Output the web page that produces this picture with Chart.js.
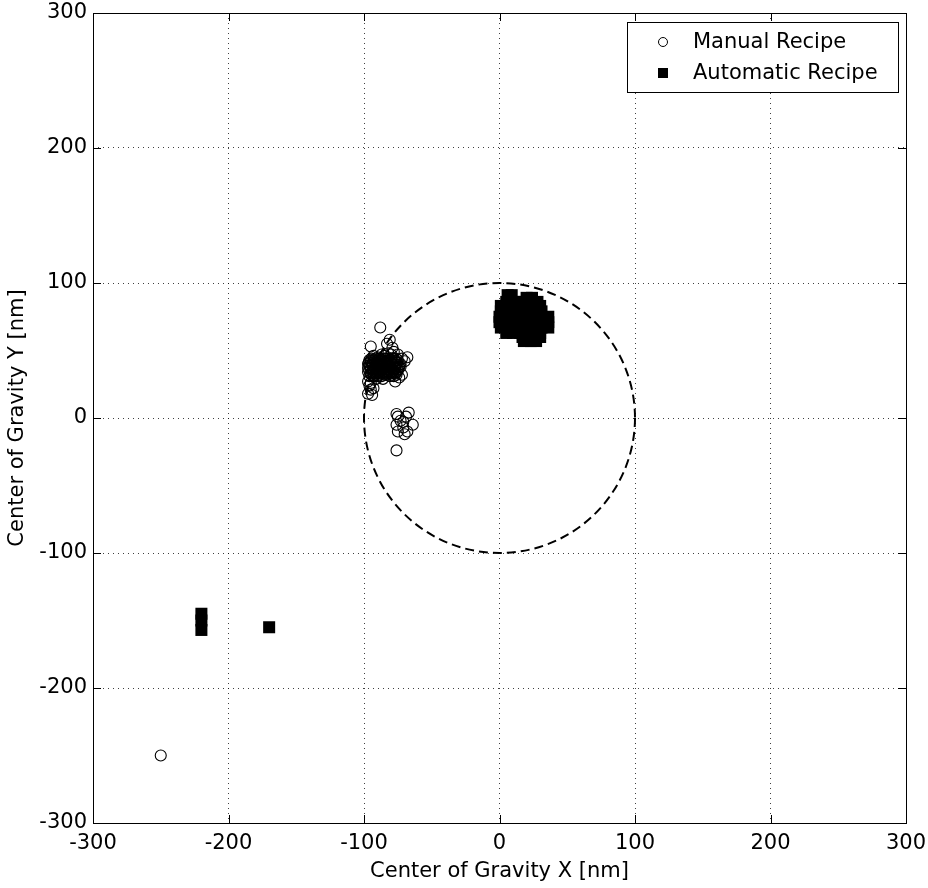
<!DOCTYPE html>
<html>
<head>
<meta charset="utf-8">
<script src="https://cdn.jsdelivr.net/npm/chart.js@4.4.1/dist/chart.umd.min.js"></script>
<style>
    html, body { margin: 0; padding: 0; background: #fff; }
    #wrap { width: 928px; height: 888px; }
</style>
</head>
<body>
<div id="wrap"><canvas id="chart"></canvas></div>
<script>
// tick values on both axes
const tickValues = [-300, -200, -100, 0, 100, 200, 300];

// reference circle (centre and radius in nm)
const circleCenter = [0, 0];
const circleRadius = 100;

// Manual Recipe points [x, y]
const manualPoints = [
    [-250, -250],
    [-88, 67], [-95, 53], [-81, 58], [-83, 55], [-79, 52],
    [-96, 43], [-93, 43], [-90, 43], [-87, 43], [-84, 44], [-81, 43], [-78, 44], [-75, 43],
    [-97, 40], [-94, 40], [-91, 41], [-88, 40], [-85, 41], [-82, 40], [-79, 40], [-76, 41], [-73, 40],
    [-97, 37], [-95, 37], [-92, 37], [-89, 37], [-86, 37], [-83, 38], [-80, 37], [-77, 37], [-74, 38],
    [-97, 34], [-94, 34], [-91, 34], [-88, 35], [-85, 34], [-82, 34], [-79, 34], [-76, 34],
    [-96, 31], [-93, 31], [-90, 31], [-87, 31], [-84, 32], [-81, 31], [-78, 31],
    [-95, 42], [-89, 42], [-83, 42], [-77, 42],
    [-96, 39], [-90, 39], [-84, 39], [-78, 39],
    [-93, 36], [-87, 36], [-81, 36], [-75, 36],
    [-95, 33], [-89, 33], [-83, 33], [-77, 33],
    [-96.5, 41], [-93.5, 41], [-90.5, 41], [-87.5, 41], [-84.5, 41], [-81.5, 41], [-78.5, 41], [-75.5, 41],
    [-95.5, 38], [-92.5, 38], [-89.5, 38], [-86.5, 38], [-83.5, 38], [-80.5, 38], [-77.5, 38], [-74.5, 38],
    [-96, 35], [-93, 35], [-90, 35], [-87, 35], [-84, 35], [-81, 35], [-78, 35], [-75, 35],
    [-94.5, 32], [-91.5, 32], [-88.5, 32], [-85.5, 32], [-82.5, 32], [-79.5, 32],
    [-94.5, 44], [-91.5, 44], [-88.5, 44], [-85.5, 44], [-82.5, 44], [-79.5, 44], [-76.5, 44],
    [-95, 42.5], [-92, 42.5], [-89, 42.5], [-86, 42.5], [-83, 42.5], [-80, 42.5], [-77, 42.5],
    [-94, 39.5], [-91, 39.5], [-88, 39.5], [-85, 39.5], [-82, 39.5], [-79, 39.5], [-76, 39.5],
    [-95, 36.5], [-92, 36.5], [-89, 36.5], [-86, 36.5], [-83, 36.5], [-80, 36.5], [-77, 36.5],
    [-93, 33.5], [-90, 33.5], [-87, 33.5], [-84, 33.5], [-81, 33.5], [-78, 33.5],
    [-93, 46], [-90, 45], [-87, 47], [-85, 46], [-82, 48], [-80, 47], [-78, 49],
    [-72, 44], [-70, 42], [-68, 45], [-75, 47], [-73, 38],
    [-76, 32], [-72, 32], [-77, 27], [-74, 30], [-86, 29], [-91, 29],
    [-97, 27], [-96, 24], [-95, 21], [-97, 18], [-94, 17], [-93, 22], [-95, 26],
    [-76, 3], [-75, 1], [-67, 4], [-69, 1], [-76, -5], [-71, -3], [-64, -5],
    [-75, -10], [-68, -10], [-71, -7], [-73, -2], [-70, -12], [-76, -24]
];

// Automatic Recipe points [x, y]
const automaticPoints = [
    [-220, -145], [-220, -150], [-220, -157], [-170, -155],
    [6, 91], [9, 91],
    [20, 89], [24, 89],
    [5, 86], [9, 86], [13, 86], [18, 86], [23, 86], [28, 86],
    [1, 83], [5, 83], [10, 83], [15, 83], [20, 83], [25, 83], [30, 83],
    [1, 79], [6, 79], [11, 79], [16, 79], [21, 79], [26, 79], [31, 79],
    [0, 75], [5, 75], [10, 75], [15, 75], [20, 75], [25, 75], [30, 75], [36, 75],
    [0, 71], [5, 71], [10, 71], [15, 71], [20, 71], [25, 71], [30, 71], [36, 71],
    [1, 67], [6, 67], [11, 67], [16, 67], [21, 67], [26, 67], [31, 67], [36, 67],
    [5, 63], [10, 63], [15, 63], [20, 63], [25, 63], [30, 63],
    [17, 60], [22, 60], [27, 60], [30, 60],
    [18, 57], [23, 57], [27, 57]
];

const FONT = "'DejaVu Sans', Arial, sans-serif";

const toXY = (arr) => arr.map(p => ({ x: p[0], y: p[1] }));

// keep the plot box where the reference has it (no label overflow padding)
const noOverflow = (s) => {
    s.paddingLeft = 0;
    s.paddingRight = 0;
    s.paddingTop = 0;
    s.paddingBottom = 0;
};

// box, inward ticks, dashed circle and legend
const matlabPlugin = {
    id: "matlab",
    beforeDatasetsDraw(chart) {
        const { ctx, scales } = chart;
        const xs = scales.x, ys = scales.y;

        // dashed reference circle
        const cx = xs.getPixelForValue(circleCenter[0]);
        const cy = ys.getPixelForValue(circleCenter[1]);
        const rx = Math.abs(xs.getPixelForValue(circleCenter[0] + circleRadius) - cx);
        const ry = Math.abs(ys.getPixelForValue(circleCenter[1] + circleRadius) - cy);
        ctx.save();
        ctx.strokeStyle = "#000";
        ctx.lineWidth = 2;
        ctx.setLineDash([9, 5]);
        ctx.beginPath();
        ctx.ellipse(cx, cy, rx, ry, 0, 0, Math.PI * 2);
        ctx.stroke();
        ctx.restore();
    },
    afterDraw(chart) {
        const { ctx, chartArea, scales } = chart;
        const { left, right, top, bottom } = chartArea;

        ctx.save();
        ctx.strokeStyle = "#000";
        ctx.lineWidth = 1;
        ctx.strokeRect(Math.round(left) + 0.5, Math.round(top) + 0.5,
            Math.round(right - left), Math.round(bottom - top));

        // inward tick marks
        const tl = 8;
        ctx.beginPath();
        tickValues.forEach(v => {
            const px = Math.round(scales.x.getPixelForValue(v)) + 0.5;
            ctx.moveTo(px, bottom); ctx.lineTo(px, bottom - tl);
            ctx.moveTo(px, top); ctx.lineTo(px, top + tl);
            const py = Math.round(scales.y.getPixelForValue(v)) + 0.5;
            ctx.moveTo(left, py); ctx.lineTo(left + tl, py);
            ctx.moveTo(right, py); ctx.lineTo(right - tl, py);
        });
        ctx.stroke();

        // legend box
        const bx = 627, by = 22, bw = 271, bh = 70;
        ctx.fillStyle = "#fff";
        ctx.fillRect(bx, by, bw, bh);
        ctx.strokeRect(bx + 0.5, by + 0.5, bw, bh);

        ctx.font = "21px " + FONT;
        ctx.fillStyle = "#000";
        ctx.textBaseline = "middle";
        ctx.textAlign = "left";

        // Manual entry
        ctx.beginPath();
        ctx.arc(663, 42, 4.5, 0, Math.PI * 2);
        ctx.stroke();
        ctx.fillText(chart.data.datasets[0].label, 693, 43);

        // Automatic entry
        ctx.fillRect(658, 68, 10, 10);
        ctx.fillText(chart.data.datasets[1].label, 693, 74);
        ctx.restore();
    }
};

new Chart(document.getElementById("chart"), {
    type: "scatter",
    data: {
        datasets: [
            {
                label: "Manual Recipe",
                data: toXY(manualPoints),
                pointStyle: "circle",
                pointRadius: 5.5,
                pointBorderWidth: 1.1,
                borderColor: "#000",
                backgroundColor: "rgba(0,0,0,0)"
            },
            {
                label: "Automatic Recipe",
                data: toXY(automaticPoints),
                pointStyle: "rect",
                pointRadius: 8.5,
                pointBorderWidth: 0,
                borderColor: "#000",
                backgroundColor: "#000"
            }
        ]
    },
    options: {
        responsive: true,
        maintainAspectRatio: false,
        animation: false,
        layout: { padding: { top: 13, right: 22, left: 0, bottom: 0 } },
        plugins: {
            legend: { display: false },
            tooltip: { enabled: false }
        },
        scales: {
            x: {
                type: "linear",
                min: -300,
                max: 300,
                afterFit: (s) => { s.height = 65; noOverflow(s); },
                afterBuildTicks: (s) => { s.ticks = tickValues.map(v => ({ value: v })); },
                grid: {
                    color: "rgba(0,0,0,0.75)",
                    lineWidth: 1,
                    drawTicks: false
                },
                border: { display: false, dash: [1, 4] },
                ticks: {
                    color: "#000",
                    padding: 8,
                    maxRotation: 0,
                    font: { family: FONT, size: 21 }
                },
                title: {
                    display: true,
                    text: "Center of Gravity X [nm]",
                    color: "#000",
                    padding: { top: 0, bottom: 4 },
                    font: { family: FONT, size: 21 }
                }
            },
            y: {
                type: "linear",
                min: -300,
                max: 300,
                afterFit: (s) => { s.width = 93; noOverflow(s); },
                afterBuildTicks: (s) => { s.ticks = tickValues.map(v => ({ value: v })); },
                grid: {
                    color: "rgba(0,0,0,0.75)",
                    lineWidth: 1,
                    drawTicks: false
                },
                border: { display: false, dash: [1, 4] },
                ticks: {
                    color: "#000",
                    padding: 6,
                    font: { family: FONT, size: 21 }
                },
                title: {
                    display: true,
                    text: "Center of Gravity Y [nm]",
                    color: "#000",
                    padding: { top: 5, bottom: 0 },
                    font: { family: FONT, size: 21 }
                }
            }
        }
    },
    plugins: [matlabPlugin]
});
</script>
</body>
</html>
